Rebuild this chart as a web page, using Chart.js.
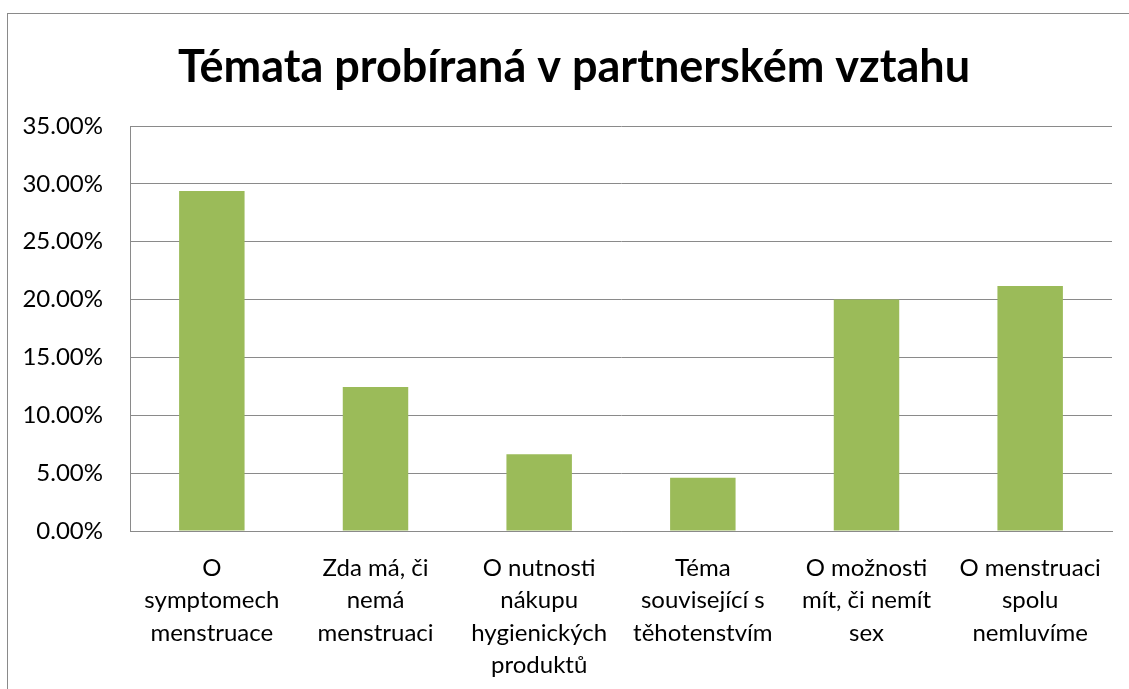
<!DOCTYPE html>
<html>
<head>
<meta charset="utf-8">
<script src="https://cdn.jsdelivr.net/npm/chart.js@4"></script>
<style>
  body { margin: 0; background: #fff; overflow: hidden; }
  #frame {
    position: absolute; left: 7px; top: 13px; width: 1200px; height: 800px;
    border-left: 1px solid #8a8a8a; border-top: 1px solid #8a8a8a;
  }
  #myChart { position: absolute; left: 0; top: 0; }
</style>
</head>
<body>
<div id="frame"></div>
<canvas id="myChart" width="1129" height="689"></canvas>
<script>
const categories = [
  ["O", "symptomech", "menstruace"],
  ["Zda má, či", "nemá", "menstruaci"],
  ["O nutnosti", "nákupu", "hygienických", "produktů"],
  ["Téma", "související s", "těhotenstvím"],
  ["O možnosti", "mít, či nemít", "sex"],
  ["O menstruaci", "spolu", "nemluvíme"],
];
const shares = [0.2938, 0.1244, 0.0663, 0.046, 0.2, 0.2117];
const yTickLabels = ["0.00%", "5.00%", "10.00%", "15.00%", "20.00%", "25.00%", "30.00%", "35.00%"];
const chartTitle = "Témata probíraná v partnerském vztahu";

const gridGray = "#8a8a8a";
const font = "Lato, 'Open Sans', sans-serif";

new Chart(document.getElementById("myChart"), {
  type: "bar",
  data: {
    labels: categories,
    datasets: [
      {
        data: shares,
        backgroundColor: "#9bbb59",
        barPercentage: 0.4,
        categoryPercentage: 1,
      },
    ],
  },
  options: {
    responsive: false,
    animation: false,
    // negative right padding pushes the title centre to the right like the original
    layout: { padding: { left: 0, right: -19, top: 0, bottom: 0 } },
    scales: {
      x: {
        grid: { display: false, drawTicks: false },
        border: { color: gridGray, width: 1 },
        ticks: {
          color: "#000",
          padding: 21,
          maxRotation: 0,
          autoSkip: false,
          font: { family: font, size: 24, lineHeight: 1.35 },
        },
        afterFit: (scale) => { scale.height = 158; },
      },
      y: {
        min: 0,
        max: 0.35,
        grid: { color: gridGray, lineWidth: 1, drawTicks: false },
        border: { color: gridGray, width: 1 },
        ticks: {
          stepSize: 0.05,
          color: "#000",
          padding: 27,
          font: { family: font, size: 24 },
          callback: (value, index) => yTickLabels[index],
        },
        afterFit: (scale) => { scale.width = 130; },
      },
      spacer: {
        position: "right",
        grid: { display: false, drawTicks: false },
        border: { display: false },
        ticks: { display: false },
        afterFit: (scale) => { scale.width = 36; },
      },
    },
    plugins: {
      legend: { display: false },
      tooltip: { enabled: false },
      title: {
        display: true,
        text: chartTitle,
        color: "#000",
        font: { family: font, size: 45, weight: "bold", lineHeight: 1.2 },
        padding: { top: 40, bottom: 32 },
      },
    },
  },
});
</script>
</body>
</html>
